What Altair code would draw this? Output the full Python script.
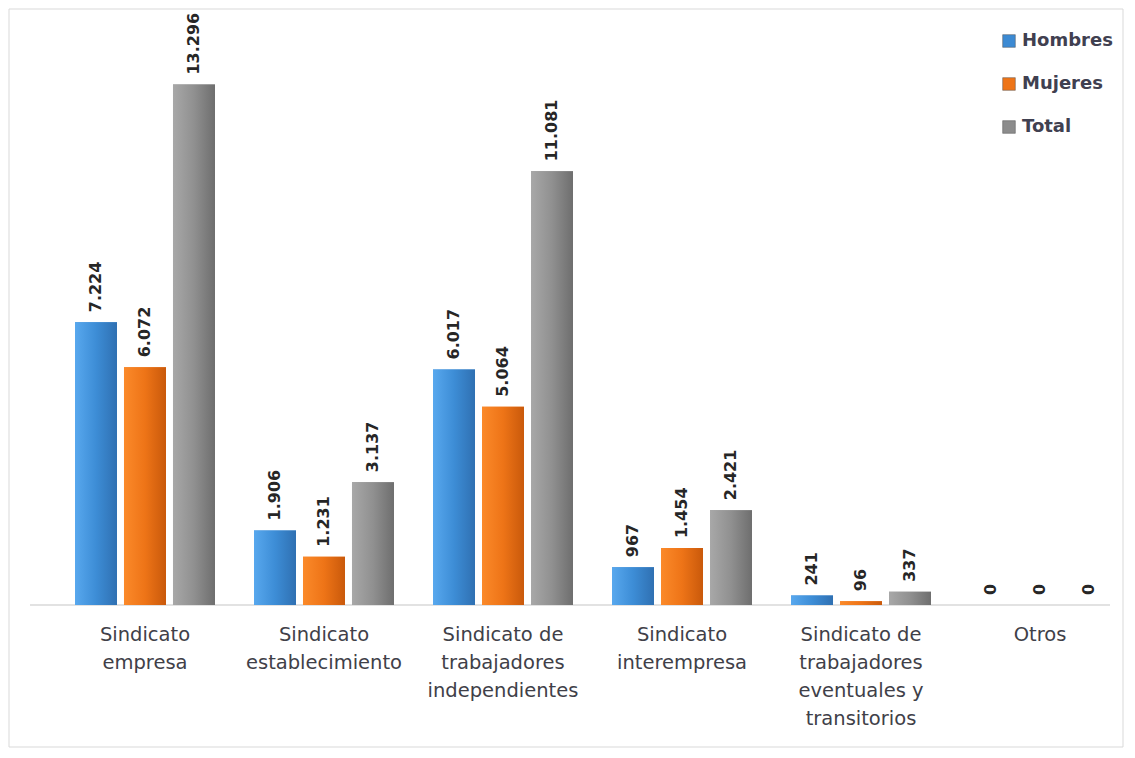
import altair as alt
import pandas as pd

categories = [
    "Sindicato|empresa",
    "Sindicato|establecimiento",
    "Sindicato de|trabajadores|independientes",
    "Sindicato|interempresa",
    "Sindicato de|trabajadores|eventuales y|transitorios",
    "Otros",
]
series = ["Hombres", "Mujeres", "Total"]
hombres = [7224, 1906, 6017, 967, 241, 0]
mujeres = [6072, 1231, 5064, 1454, 96, 0]
total = [13296, 3137, 11081, 2421, 337, 0]
colors = ["#3c8ad3", "#ee7417", "#8c8c8c"]

rows = []
for vals, s in zip([hombres, mujeres, total], series):
    for c, v in zip(categories, vals):
        rows.append({"cat": c, "serie": s, "v": v})
df = pd.DataFrame(rows)

W, H = 1035, 548

x = alt.X("cat:N", sort=categories, title=None,
          scale=alt.Scale(paddingInner=0.218, paddingOuter=0),
          axis=alt.Axis(labelExpr="split(datum.label, '|')", labelAngle=0,
                        labelFontSize=19.5, labelFont="DejaVu Sans", labelColor="#404048",
                        labelLineHeight=28, labelPadding=20, labelBaseline="top",
                        ticks=False, domain=False, grid=False))
xo = alt.XOffset("serie:N", sort=series,
                 scale=alt.Scale(paddingInner=0.143, paddingOuter=0))
y = alt.Y("v:Q", scale=alt.Scale(domain=[0, 14000]), axis=None)

base = alt.Chart(df)

bars = base.mark_bar().encode(
    x=x, xOffset=xo, y=y,
    color=alt.Color("serie:N", sort=series,
                    scale=alt.Scale(domain=series, range=colors),
                    legend=alt.Legend(title=None, orient="none", legendX=925, legendY=-25,
                                      symbolType="square", symbolSize=160,
                                      symbolStrokeColor="#555", symbolStrokeWidth=0.5,
                                      labelFontSize=18, labelFontWeight="bold",
                                      labelFont="DejaVu Sans", labelColor="#404050",
                                      rowPadding=25, labelOffset=4)),
)

grads = {
    "Hombres": ["#58a8ee", "#3d8dd6", "#2f70b2"],
    "Mujeres": ["#fb8a2a", "#ee7417", "#c9590b"],
    "Total": ["#a8a8a8", "#909090", "#6e6e6e"],
}
overlays = []
for s in series:
    g = grads[s]
    overlays.append(
        base.transform_filter(alt.datum.serie == s).mark_bar(
            color=alt.Gradient(gradient="linear", x1=0, x2=1, y1=0, y2=0,
                               stops=[alt.GradientStop(offset=0, color=g[0]),
                                      alt.GradientStop(offset=0.5, color=g[1]),
                                      alt.GradientStop(offset=1, color=g[2])])
        ).encode(x=x, xOffset=xo, y=y)
    )

labels = base.transform_calculate(
    lab="replace(format(datum.v, ','), ',', '.')"
).mark_text(angle=270, align="left", baseline="middle", dx=10,
            fontSize=16, fontWeight="bold", font="DejaVu Sans", color="#262626").encode(
    x=x, xOffset=xo, y=y, text="lab:N")

one = alt.Chart(pd.DataFrame({"a": [0]}))
axis_line = one.mark_rule(color="#d9d9d9", strokeWidth=1.5).encode(
    x=alt.value(-45), x2=alt.value(W), y=alt.value(H))
frame = one.mark_rect(fillOpacity=0, stroke="#d9d9d9", strokeWidth=1).encode(
    x=alt.value(-66), x2=alt.value(W + 13), y=alt.value(-48), y2=alt.value(H + 142))

chart = alt.layer(frame, axis_line, bars, *overlays, labels).properties(
    width=W, height=H,
    autosize=alt.AutoSizeParams(type="none"),
    padding={"left": 67, "top": 49, "right": 15, "bottom": 144},
    background="white",
).configure_view(stroke=None)

chart.save("out.html", embed_options={"renderer": "svg", "actions": False})
